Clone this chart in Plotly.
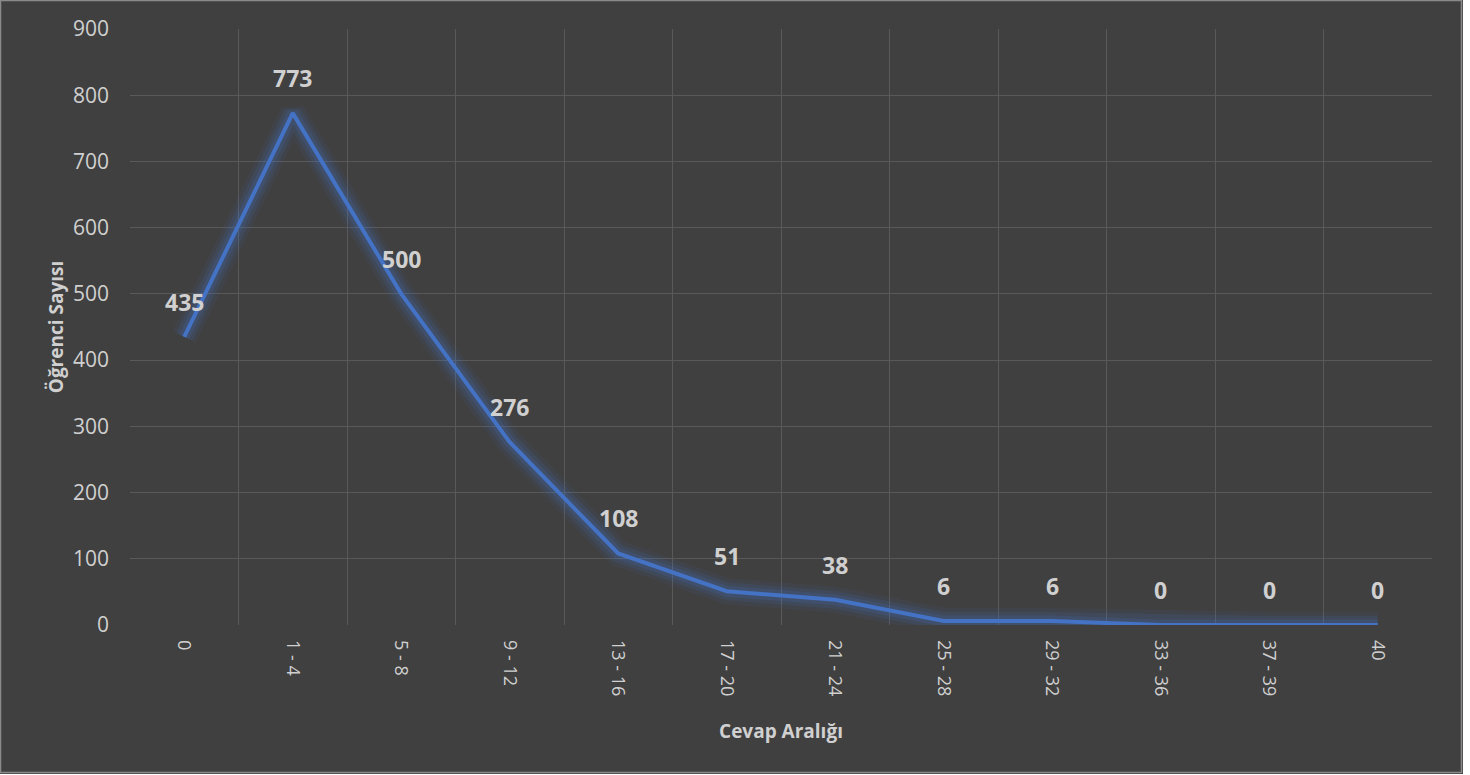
import plotly.graph_objects as go

categories = ["0", "1 - 4", "5 - 8", "9 - 12", "13 - 16", "17 - 20", "21 - 24",
              "25 - 28", "29 - 32", "33 - 36", "37 - 39", "40"]
values = [435, 773, 500, 276, 108, 51, 38, 6, 6, 0, 0, 0]
y_ticks = [0, 100, 200, 300, 400, 500, 600, 700, 800, 900]

W, H = 1463, 774
ML, MR, MT, MB = 130, 31, 29, 149
BG = "#404040"
GRID = "#595959"
TXT = "#d0d0d0"
LINE = "#4472C4"
FONT = "Open Sans, Noto Sans, sans-serif"

fig = go.Figure()
for w, a in [(26, 0.08), (18, 0.12), (11, 0.18)]:
    fig.add_trace(go.Scatter(x=categories, y=values, mode="lines",
                             line=dict(color=f"rgba(68,114,196,{a})", width=w),
                             hoverinfo="skip", showlegend=False))
fig.add_trace(go.Scatter(x=categories, y=values, mode="lines",
                         line=dict(color=LINE, width=4), showlegend=False))

for i, v in enumerate(values):
    fig.add_annotation(x=i, y=v, text=f"<b>{v}</b>", showarrow=False,
                       yshift=35, font=dict(size=23, color="#d0d0d0", family=FONT))

pw = W - ML - MR
ph = H - MT - MB
fig.add_shape(type="rect", xref="paper", yref="paper",
              x0=-(ML - 0.5) / pw, x1=1 + (MR - 1.5) / pw,
              y0=-(MB - 1.5) / ph, y1=1 + (MT - 0.5) / ph,
              line=dict(color="#8a8a8a", width=1.5), layer="below")

fig.update_layout(
    width=W, height=H,
    margin=dict(l=ML, r=MR, t=MT, b=MB),
    paper_bgcolor=BG, plot_bgcolor=BG,
    font=dict(family=FONT, color=TXT),
    showlegend=False,
    xaxis=dict(type="category", tickangle=90, tickson="boundaries",
               range=[-0.5, len(categories) - 0.5],
               showgrid=True, gridcolor=GRID, gridwidth=1,
               ticks="", tickfont=dict(size=18, color=TXT), ticklabelstandoff=14,
               showline=False, zeroline=False,
               title=dict(text="<b>Cevap Aralığı</b>", font=dict(size=19, color=TXT), standoff=29)),
    yaxis=dict(range=[0, 900], tickvals=y_ticks, showgrid=True, gridcolor=GRID,
               gridwidth=1, zeroline=False, showline=False, ticks="",
               tickfont=dict(size=21, color=TXT), ticklabelstandoff=20,
               title=dict(text="<b>Öğrenci Sayısı</b>", font=dict(size=19, color=TXT), standoff=4)),
)

fig.write_html("out.html", config={"displayModeBar": False})
with open("out.html", encoding="utf-8") as f:
    html = f.read()
html = html.replace("<body>", '<body style="margin:0;background:#ffffff">', 1)
with open("out.html", "w", encoding="utf-8") as f:
    f.write(html)
